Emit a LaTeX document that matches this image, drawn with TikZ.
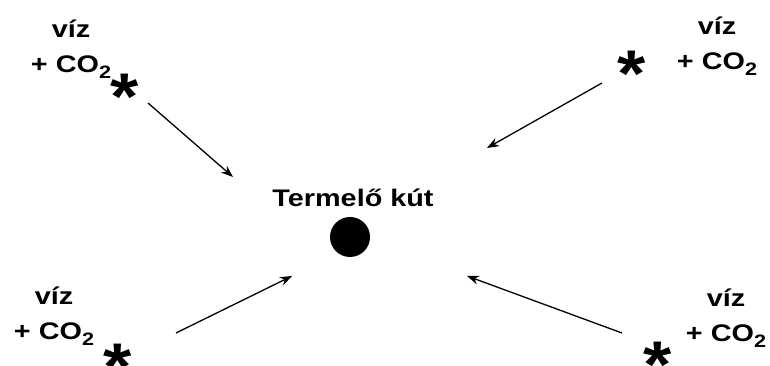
\documentclass[tikz,border=0pt]{standalone}
\usepackage{fontspec}
\setmainfont{Liberation Sans}
\usetikzlibrary{arrows.meta,positioning}
\newcommand{\dn}[1]{\raisebox{-6pt}{\fontsize{18}{18}\selectfont #1}}

\begin{document}
\begin{tikzpicture}[x=1pt,y=1pt,
  lbl/.style={font=\bfseries\fontsize{24}{28}\selectfont,inner sep=0pt,anchor=base,xscale=1.2,transform shape},
  well/.style={font=\bfseries\fontsize{66}{66}\selectfont,inner sep=0pt,anchor=base,xscale=1.1,transform shape},
  flow/.style={-{Stealth[length=12pt,width=9pt]},line width=1.3pt}]
  \useasboundingbox (0,0) rectangle (770,366);

  % Production well
  \node[lbl] (prod) at (353,159) {Termelő kút};
  \fill (350,129) circle (20pt);

  % Top left
  \node[lbl] (viz1) at (71,328) {víz};
  \node[lbl] (co1) at ([yshift=-35]viz1.base) {+ CO\dn{2}};
  \node[well] (inj1) at (125,246) {*};
  \coordinate (s1) at (148,263);
  \coordinate (e1) at (233,189);

  % Top right
  \node[lbl] (viz2) at (717,331) {víz};
  \node[lbl] (co2) at ([yshift=-35]viz2.base) {+ CO\dn{2}};
  \node[well] (inj2) at (632,269) {*};
  \coordinate (s2) at (602,283);
  \coordinate (e2) at (487,218);

  % Bottom left
  \node[lbl] (viz3) at (54,61) {víz};
  \node[lbl] (co3) at ([yshift=-35]viz3.base) {+ CO\dn{2}};
  \node[well] (inj3) at (118,-24) {*};
  \coordinate (s3) at (176,33);
  \coordinate (e3) at (292,90);

  % Bottom right
  \node[lbl] (viz4) at (726,59) {víz};
  \node[lbl] (co4) at ([yshift=-35]viz4.base) {+ CO\dn{2}};
  \node[well] (inj4) at (658,-22) {*};
  \coordinate (s4) at (622,33);
  \coordinate (e4) at (467,90);

  % Flow towards the well
  \draw[flow] (s1) -- (e1);
  \draw[flow] (s2) -- (e2);
  \draw[flow] (s3) -- (e3);
  \draw[flow] (s4) -- (e4);
\end{tikzpicture}
\end{document}
